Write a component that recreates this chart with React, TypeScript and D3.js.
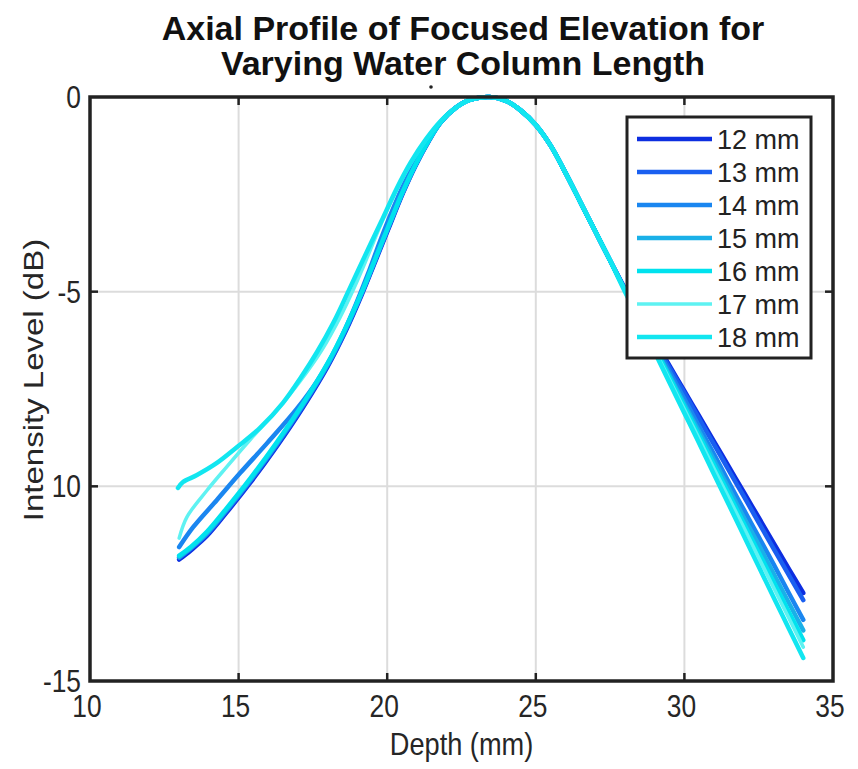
import React from 'react';
import * as d3 from 'd3';

// ---------- data ----------
const depthTicks = [10, 15, 20, 25, 30, 35];
const levelTicks = [0, -5, -10, -15];
const levelTickLabels = ['0', '-5', '10', '-15'];
const seriesNames = ['12 mm', '13 mm', '14 mm', '15 mm', '16 mm', '17 mm', '18 mm'];
const seriesColors = ['#0d2ee0', '#1a5ff0', '#1a86f0', '#1ab0e8', '#00e2ee', '#5ef2f2', '#12e6f0'];
const seriesWidths = [4.5, 4.5, 4.5, 4.5, 4.5, 3.5, 4.5];

// [depth (mm), level (dB)]
const s12: [number, number][] = [
  [13.0, -11.88], [13.4, -11.64], [13.94, -11.27], [14.6, -10.67], [15.38, -9.92], [16.29, -8.97],
  [17.17, -7.97], [18.0, -6.92], [18.6, -6.02], [19.15, -5.07], [19.6, -4.22], [20.05, -3.37],
  [20.5, -2.52], [20.95, -1.77], [21.4, -1.13], [21.8, -0.65], [22.3, -0.28], [22.8, -0.07],
  [23.45, 0], [24.0, -0.1], [24.5, -0.35], [25.0, -0.72], [25.5, -1.25], [26.0, -1.95],
  [26.5, -2.7], [27.0, -3.45], [27.5, -4.2], [28.0, -4.92], [28.5, -5.6], [29.0, -6.25],
  [29.5, -6.9], [30.0, -7.55], [30.5, -8.2], [31.0, -8.85], [31.5, -9.5], [32.0, -10.15],
  [32.5, -10.8], [33.0, -11.45], [33.5, -12.1], [34.0, -12.74],
];
const s13: [number, number][] = [
  [13.0, -11.84], [13.4, -11.6], [13.94, -11.23], [14.6, -10.63], [15.38, -9.88], [16.29, -8.93],
  [17.17, -7.93], [18.0, -6.89], [18.6, -5.99], [19.15, -5.04], [19.6, -4.19], [20.05, -3.34],
  [20.5, -2.5], [20.95, -1.76], [21.4, -1.12], [21.8, -0.65], [22.3, -0.28], [22.8, -0.07],
  [23.45, 0], [24.0, -0.1], [24.5, -0.35], [25.0, -0.72], [25.5, -1.25], [26.0, -1.95],
  [26.5, -2.7], [27.0, -3.45], [27.5, -4.2], [28.0, -4.93], [28.5, -5.62], [29.0, -6.28],
  [29.5, -6.95], [30.0, -7.6], [30.5, -8.27], [31.0, -8.93], [31.5, -9.6], [32.0, -10.26],
  [32.5, -10.93], [33.0, -11.6], [33.5, -12.26], [34.0, -12.92],
];
const s14: [number, number][] = [
  [13.0, -11.56], [13.47, -11.05], [14.27, -10.35], [15.05, -9.66], [15.96, -8.89], [16.97, -8.0],
  [17.64, -7.3], [18.3, -6.42], [18.85, -5.5], [19.35, -4.55], [19.8, -3.62], [20.3, -2.68],
  [20.8, -1.85], [21.3, -1.17], [21.8, -0.64], [22.3, -0.28], [22.8, -0.07], [23.45, 0],
  [24.0, -0.1], [24.5, -0.35], [25.0, -0.72], [25.5, -1.25], [26.0, -1.95], [26.5, -2.7],
  [27.0, -3.45], [27.5, -4.2], [28.0, -4.95], [28.5, -5.65], [29.0, -6.35], [29.5, -7.05],
  [30.0, -7.75], [30.5, -8.47], [31.0, -9.18], [31.5, -9.9], [32.0, -10.6], [32.5, -11.3],
  [33.0, -12.0], [33.5, -12.72], [34.0, -13.43],
];
const s15: [number, number][] = [
  [13.0, -11.82], [13.4, -11.58], [13.94, -11.2], [14.6, -10.6], [15.38, -9.85], [16.29, -8.9],
  [17.17, -7.9], [18.0, -6.86], [18.6, -5.96], [19.15, -5.02], [19.6, -4.17], [20.05, -3.32],
  [20.5, -2.49], [20.95, -1.75], [21.4, -1.12], [21.8, -0.65], [22.3, -0.28], [22.8, -0.07],
  [23.45, 0], [24.0, -0.1], [24.5, -0.35], [25.0, -0.72], [25.5, -1.25], [26.0, -1.95],
  [26.5, -2.7], [27.0, -3.45], [27.5, -4.2], [28.0, -4.96], [28.5, -5.7], [29.0, -6.42],
  [29.5, -7.15], [30.0, -7.88], [30.5, -8.6], [31.0, -9.33], [31.5, -10.06], [32.0, -10.8],
  [32.5, -11.5], [33.0, -12.24], [33.5, -12.97], [34.0, -13.7],
];
const s16: [number, number][] = [
  [13.0, -11.78], [13.4, -11.55], [13.94, -11.16], [14.6, -10.56], [15.38, -9.81], [16.29, -8.86],
  [17.17, -7.87], [18.0, -6.83], [18.6, -5.93], [19.15, -5.0], [19.6, -4.15], [20.05, -3.3],
  [20.5, -2.47], [20.95, -1.74], [21.4, -1.11], [21.8, -0.65], [22.3, -0.28], [22.8, -0.07],
  [23.45, 0], [24.0, -0.1], [24.5, -0.35], [25.0, -0.72], [25.5, -1.25], [26.0, -1.95],
  [26.5, -2.7], [27.0, -3.45], [27.5, -4.2], [28.0, -4.97], [28.5, -5.72], [29.0, -6.46],
  [29.5, -7.2], [30.0, -7.95], [30.5, -8.7], [31.0, -9.45], [31.5, -10.2], [32.0, -10.95],
  [32.5, -11.7], [33.0, -12.45], [33.5, -13.2], [34.0, -13.95],
];
const s17: [number, number][] = [
  [13.0, -11.33], [13.26, -10.79], [13.94, -10.1], [14.6, -9.5], [15.38, -8.81], [16.29, -8.04],
  [17.07, -7.3], [17.8, -6.5], [18.4, -5.68], [18.9, -4.88], [19.35, -4.08], [19.8, -3.25],
  [20.3, -2.42], [20.8, -1.7], [21.3, -1.1], [21.8, -0.63], [22.3, -0.28], [22.8, -0.07],
  [23.45, 0], [24.0, -0.1], [24.5, -0.35], [25.0, -0.72], [25.5, -1.25], [26.0, -1.95],
  [26.5, -2.7], [27.0, -3.45], [27.5, -4.2], [28.0, -4.98], [28.5, -5.74], [29.0, -6.5],
  [29.5, -7.26], [30.0, -8.02], [30.5, -8.78], [31.0, -9.55], [31.5, -10.3], [32.0, -11.06],
  [32.5, -11.83], [33.0, -12.6], [33.5, -13.36], [34.0, -14.13],
];
const s18: [number, number][] = [
  [12.96, -10.04], [13.13, -9.89], [13.6, -9.71], [14.27, -9.4], [14.95, -8.99], [15.72, -8.5],
  [16.5, -7.85], [17.1, -7.2], [17.64, -6.55], [18.2, -5.78], [18.7, -4.98], [19.25, -4.08],
  [19.8, -3.2], [20.3, -2.38], [20.8, -1.67], [21.3, -1.09], [21.8, -0.62], [22.3, -0.28],
  [22.8, -0.07], [23.45, 0], [24.0, -0.1], [24.5, -0.35], [25.0, -0.72], [25.5, -1.25],
  [26.0, -1.95], [26.5, -2.7], [27.0, -3.45], [27.5, -4.2], [28.0, -5.0], [28.5, -5.76],
  [29.0, -6.55], [29.5, -7.34], [30.0, -8.12], [30.5, -8.9], [31.0, -9.7], [31.5, -10.48],
  [32.0, -11.27], [32.5, -12.06], [33.0, -12.85], [33.5, -13.63], [34.0, -14.41],
];
const seriesData = [s12, s13, s14, s15, s16, s17, s18];

const titleLines = ['Axial Profile of Focused Elevation for', 'Varying Water Column Length'];
const xLabel = 'Depth (mm)';
const yLabel = 'Intensity Level (dB)';

// ---------- layout ----------
const W = 858;
const H = 769;
const plot = { left: 90, right: 833, top: 97, bottom: 681 };
const FONT = 'Arial, "Liberation Sans", Helvetica, sans-serif';

export default function App() {
  const x = d3.scaleLinear().domain([10, 35]).range([plot.left, plot.right]);
  const y = d3.scaleLinear().domain([-15, 0]).range([plot.bottom, plot.top]);
  const line = d3
    .line<[number, number]>()
    .x((d) => x(d[0]))
    .y((d) => y(d[1]))
    .curve(d3.curveCatmullRom.alpha(0.5));

  const tickLen = 8;
  const legend = { x: 627, y: 117, w: 184, h: 241, rowH: 33, first: 139 };

  return (
    <svg
      width={W}
      height={H}
      viewBox={`0 0 ${W} ${H}`}
      style={{ position: 'absolute', left: 0, top: 0, background: '#fff' }}
      fontFamily={FONT}
    >
      <rect x={0} y={0} width={W} height={H} fill="#fff" />
      {/* grid */}
      <g stroke="#dcdcdc" strokeWidth={2}>
        {depthTicks.slice(1, -1).map((t) => (
          <line key={'gx' + t} x1={x(t)} x2={x(t)} y1={plot.top} y2={plot.bottom} />
        ))}
        {levelTicks.slice(1, -1).map((t) => (
          <line key={'gy' + t} x1={plot.left} x2={plot.right} y1={y(t)} y2={y(t)} />
        ))}
      </g>
      {/* curves */}
      <g fill="none" strokeLinecap="round" strokeLinejoin="round">
        {seriesData.map((s, i) => (
          <path key={seriesNames[i]} d={line(s) || ''} stroke={seriesColors[i]} strokeWidth={seriesWidths[i]} />
        ))}
      </g>
      {/* ticks */}
      <g stroke="#222" strokeWidth={2.5}>
        {depthTicks.slice(1, -1).map((t) => (
          <g key={'tx' + t}>
            <line x1={x(t)} x2={x(t)} y1={plot.bottom} y2={plot.bottom - tickLen} />
            <line x1={x(t)} x2={x(t)} y1={plot.top} y2={plot.top + tickLen} />
          </g>
        ))}
        {levelTicks.slice(1, -1).map((t) => (
          <g key={'ty' + t}>
            <line x1={plot.left} x2={plot.left + tickLen} y1={y(t)} y2={y(t)} />
            <line x1={plot.right} x2={plot.right - tickLen} y1={y(t)} y2={y(t)} />
          </g>
        ))}
      </g>
      {/* box */}
      <rect
        x={plot.left}
        y={plot.top}
        width={plot.right - plot.left}
        height={plot.bottom - plot.top}
        fill="none"
        stroke="#222"
        strokeWidth={3.5}
      />
      {/* small mark above the axes */}
      <circle cx={431} cy={87} r={1.8} fill="#222" />
      {/* x tick labels */}
      <g fontSize={31} fill="#262626" textAnchor="middle">
        {depthTicks.map((t) => (
          <text key={'lx' + t} transform={`translate(${x(t) - 3},${plot.bottom + 36}) scale(0.85,1)`}>
            {t}
          </text>
        ))}
      </g>
      {/* y tick labels */}
      <g fontSize={31} fill="#262626" textAnchor="end">
        {levelTicks.map((t, i) => (
          <text key={'ly' + t} transform={`translate(${plot.left - 9},${y(t) + 11}) scale(0.85,1)`}>
            {levelTickLabels[i]}
          </text>
        ))}
      </g>
      {/* axis labels */}
      <text
        transform={`translate(${(plot.left + plot.right) / 2},${plot.bottom + 74}) scale(0.85,1)`}
        fontSize={32}
        textAnchor="middle"
        fill="#262626"
      >
        {xLabel}
      </text>
      <text
        transform={`translate(43,380) rotate(-90) scale(1,0.85)`}
        fontSize={33}
        textAnchor="middle"
        fill="#262626"
      >
        {yLabel}
      </text>
      {/* title */}
      <g fontSize={34} fontWeight="bold" textAnchor="middle" fill="#111">
        {titleLines.map((t, i) => (
          <text key={t} transform={`translate(463,${40 + i * 35}) scale(1,1)`}>
            {t}
          </text>
        ))}
      </g>
      {/* legend */}
      <rect x={legend.x} y={legend.y} width={legend.w} height={legend.h} fill="#fff" stroke="#222" strokeWidth={3} />
      {seriesNames.map((n, i) => {
        const cy = legend.first + i * legend.rowH;
        return (
          <g key={'lg' + n}>
            <line x1={637} x2={712} y1={cy} y2={cy} stroke={seriesColors[i]} strokeWidth={seriesWidths[i]} />
            <text x={717} y={cy + 10} fontSize={27} fill="#222">
              {n}
            </text>
          </g>
        );
      })}
    </svg>
  );
}
